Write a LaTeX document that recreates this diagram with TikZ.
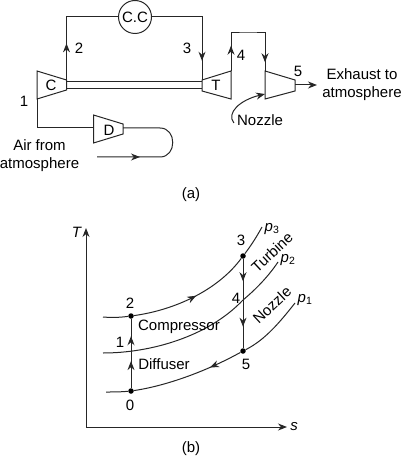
\documentclass[tikz,border=0pt]{standalone}
\usepackage{fontspec}
\setmainfont{Liberation Sans}
\usetikzlibrary{arrows.meta,decorations.markings}
\begin{document}
\begin{tikzpicture}[
        x=1pt, y=-1pt,
        every node/.style={inner sep=0pt, font=\fontsize{15}{16}\selectfont},
        line/.style={draw, line width=1pt, black!85},
        flow/.style={line, -{Stealth[length=9pt,width=7pt]}},
        dot/.style={circle, fill=black, minimum size=5.5pt},
        midtip/.style={postaction={decorate, decoration={markings,
            mark=at position #1 with {\arrow{Stealth[length=9pt,width=7pt]}}}}},
        lbl/.style={align=center},
    ]
    \useasboundingbox (0,0) rectangle (401,457);
    % cycle (a)
    \node[draw, circle, line width=1pt, black!85, minimum size=33pt, text=black](cc) at (135,17){C.C};
    \draw[line] (37,71) -- (66.5,80) -- (66.5,90) -- (37,99) -- cycle;
    \draw[line] (93.5,115) -- (123,124) -- (123,134) -- (93.5,143) -- cycle;
    \draw[line] (202,80) -- (231,71) -- (231,99) -- (202,91) -- cycle;
    \draw[line] (265,71) -- (295,80) -- (295,91) -- (265,99) -- cycle;
    \node(c) at (51,85){C};
    \node(d) at (109,130){D};
    \node(t) at (216,85){T};
    \coordinate(cout) at (66.5,80);
    \coordinate(tin) at (202,80);
    \coordinate(tout) at (231,71);
    \coordinate(nin) at (265,71);
    \coordinate(nout) at (295,85);
    \coordinate(exh) at (317,85);
    \coordinate(cin) at (37,99);
    \coordinate(din) at (93.5,128);
    \coordinate(dout) at (123,128);
    \coordinate(airin) at (97,157);
    \draw[line] (66.5,82) -- (202,82);
    \draw[line] (66.5,88.5) -- (202,88.5);
    \draw[line, midtip=0.32] (cout) |- (cc);
    \draw[line, midtip=0.83] (cc) -| (tin);
    \draw[line, midtip=0.23, midtip=0.92] (tout) |- (248,33) -| (nin);
    \draw[flow] (nout) -- (exh);
    \draw[line] (cin) |- (din);
    \draw[line, midtip=0.3] (airin) -- (160,157) .. controls (177,157) and (177,128) .. (160,128) -- (dout);
    \node[lbl](n1) at (24,101){1};
    \node[lbl](n2) at (79,48){2};
    \node[lbl](n3) at (187,48){3};
    \node[lbl](n4) at (241,55){4};
    \node[lbl](n5) at (298,71){5};
    \node[lbl](air) at (39.5,156){Air from\\[2pt]atmosphere};
    \node[lbl](exhaust) at (362,85){Exhaust to\\[2pt]atmosphere};
    \node[lbl](nozzle) at (260,120){Nozzle};
    \draw[flow] (nozzle.west) ++(-3,3) .. controls (226,113) and (240,100) .. (265,94);
    \node(capa) at (191,195){(a)};
    % cycle (b)
    \coordinate(o) at (86,427);
    \node(axt) at (77,232){\textit{T}};
    \node(axs) at (294,427){\textit{s}};
    \draw[flow] (o) -- (86,228);
    \draw[flow] (o) -- (287,427);
    \node[dot](s0) at (131,391){};
    \node[dot](s2) at (131,316){};
    \node[dot](s3) at (243,256){};
    \node[dot](s5) at (243,351){};
    \coordinate(s4) at (243,300);
    \coordinate(s1) at (131,353);
    \draw[line, midtip=0.39, midtip=0.75] (s0) -- (s2);
    \draw[line, midtip=0.25, midtip=0.76] (s3) -- (s5);
    \draw[line, midtip=0.5] (103,317) .. controls (115,318) and (123,317) .. (s2) .. controls (175,310) and (218,290) .. (s3) .. controls (250,247) and (256,238) .. (262,227);
    \draw[line] (103,353) .. controls (150,353) and (208,337) .. (s4) .. controls (255,290) and (268,277) .. (278,262);
    \draw[line] (295,303) .. controls (280,322) and (265,340) .. (s5);
    \draw[line, midtip=0.25] (s5) .. controls (205,372) and (165,386) .. (s0) .. controls (120,392) and (115,392) .. (106,392);
    \node(l0) at (130,405){0};
    \node(l1) at (120,342){1};
    \node(l2) at (130,303){2};
    \node(l3) at (241,240){3};
    \node(l4) at (236,298){4};
    \node(l5) at (246,364){5};
    \node(comp) at (179,327){Compressor};
    \node(diff) at (164,364){Diffuser};
    \node[rotate=43](turb) at (272,252){Turbine};
    \node[rotate=43](nozz) at (272,305){Nozzle};
    \node(p3) at (272,229){\textit{p}\textsubscript{3}};
    \node(p2) at (288,260){\textit{p}\textsubscript{2}};
    \node(p1) at (305,300){\textit{p}\textsubscript{1}};
    \node(capb) at (191,449){(b)};
\end{tikzpicture}
\end{document}
